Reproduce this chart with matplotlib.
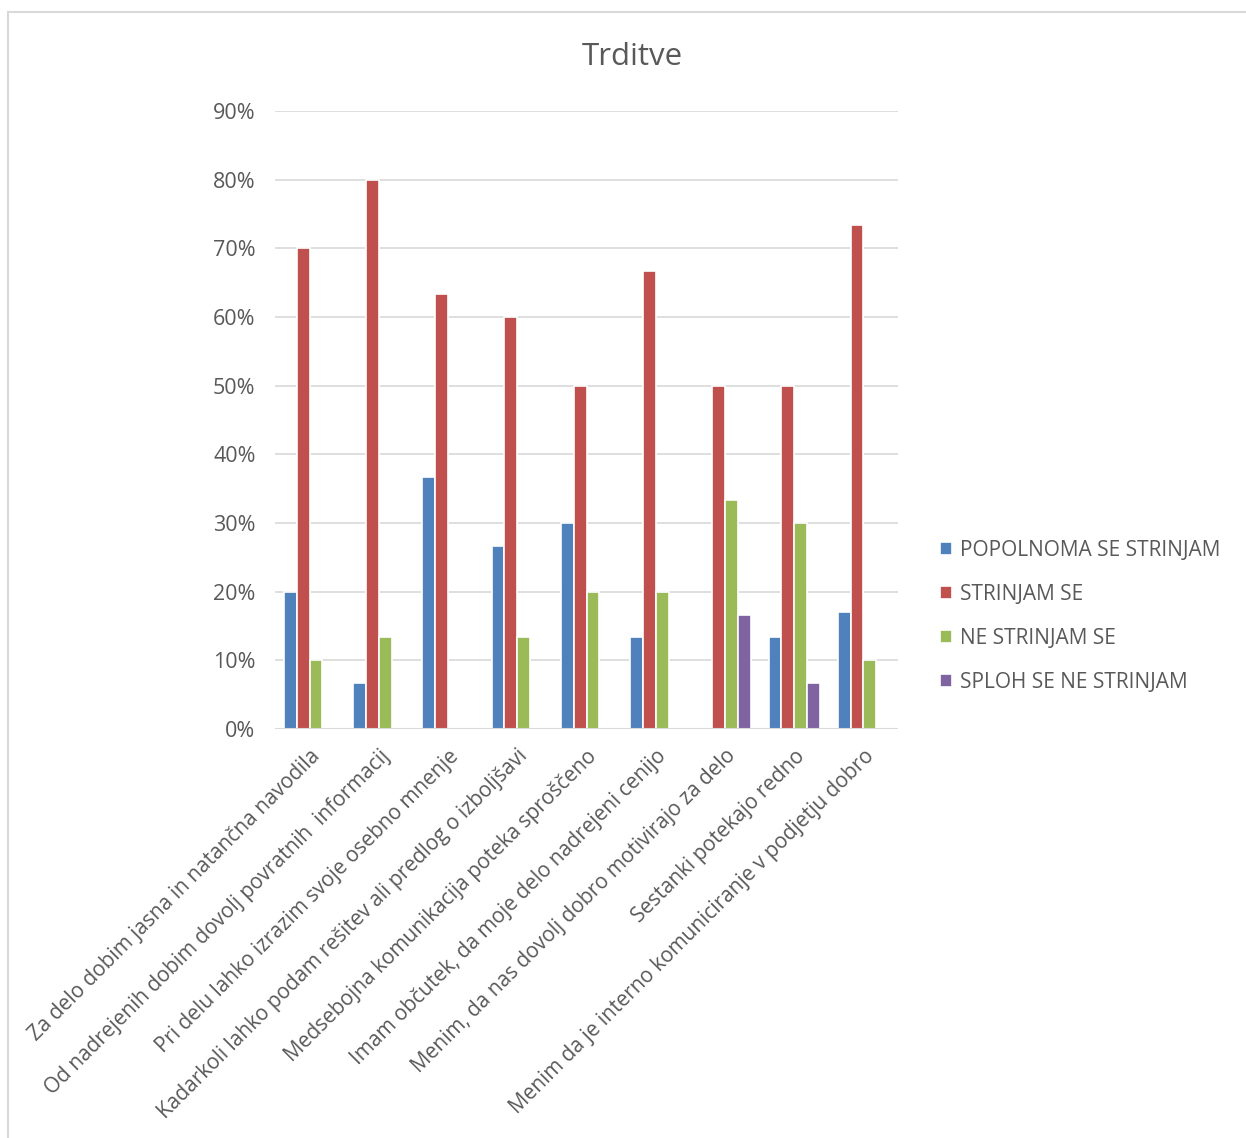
import matplotlib
matplotlib.use("Agg")
import matplotlib.pyplot as plt
import numpy as np
from matplotlib.patches import Rectangle
from matplotlib.ticker import FuncFormatter

categories = [
    "Za delo dobim jasna in natančna navodila",
    "Od nadrejenih dobim dovolj povratnih  informacij",
    "Pri delu lahko izrazim svoje osebno mnenje",
    "Kadarkoli lahko podam rešitev ali predlog o izboljšavi",
    "Medsebojna komunikacija poteka sproščeno",
    "Imam občutek, da moje delo nadrejeni cenijo",
    "Menim, da nas dovolj dobro motivirajo za delo",
    "Sestanki potekajo redno",
    "Menim da je interno komuniciranje v podjetju dobro",
]
series_names = ["POPOLNOMA SE STRINJAM", "STRINJAM SE", "NE STRINJAM SE", "SPLOH SE NE STRINJAM"]
popolnoma = [20.0, 6.67, 36.67, 26.67, 30.0, 13.33, 0.0, 13.33, 17.0]
strinjam = [70.0, 80.0, 63.33, 60.0, 50.0, 66.67, 50.0, 50.0, 73.33]
ne_strinjam = [10.0, 13.33, 0.0, 13.33, 20.0, 20.0, 33.33, 30.0, 10.0]
sploh_ne = [0.0, 0.0, 0.0, 0.0, 0.0, 0.0, 16.67, 6.67, 0.0]
yticks = [0, 10, 20, 30, 40, 50, 60, 70, 80, 90]

colors = ["#4F81BD", "#C0504D", "#9BBB59", "#8064A2"]
font = "Open Sans"
tc = "#595959"

W, H = 1246, 1138
fig = plt.figure(figsize=(W / 100, H / 100), dpi=100)
fig.patch.set_facecolor("white")

# outer frame
fig.patches.append(Rectangle((8 / W, -0.1), 1.2, 1 - 12 / H + 0.1, transform=fig.transFigure,
                             fill=False, edgecolor="#D9D9D9", linewidth=1.5, zorder=0))

ax = fig.add_axes([275 / W, 1 - 729 / H, (898 - 275) / W, (729 - 111) / H])
x = np.arange(len(categories))
bw = 0.185
data = [popolnoma, strinjam, ne_strinjam, sploh_ne]
for i, (vals, name, c) in enumerate(zip(data, series_names, colors)):
    ax.bar(x + (i - 1.5) * bw, vals, width=bw, color=c, edgecolor="white",
           linewidth=1.2, label=name, zorder=3)

ax.set_xlim(-0.5, len(categories) - 0.5)
ax.set_ylim(0, 90)
ax.set_yticks(yticks)
ax.yaxis.set_major_formatter(FuncFormatter(lambda v, p: f"{int(v)}%"))
ax.grid(axis="y", color="#D9D9D9", linewidth=1.2, zorder=0)
for s in ["top", "right", "left", "bottom"]:
    ax.spines[s].set_visible(False)
ax.axhline(0, color="#D9D9D9", linewidth=1.5, zorder=4)
ax.tick_params(axis="both", length=0, colors=tc)
ax.tick_params(axis="y", pad=14)
for lab in ax.get_yticklabels():
    lab.set_fontfamily(font)
    lab.set_fontsize(15.5)
ax.set_xticks(x)
ax.set_xticklabels(categories, rotation=45, ha="right", rotation_mode="anchor",
                   fontfamily=font, fontsize=15, color=tc)
ax.tick_params(axis="x", pad=12)

fig.text(632 / W, 1 - 57 / H, "Trditve", ha="center", va="center",
         fontfamily=font, fontsize=22.5, color=tc)

leg = fig.legend(loc="upper left", bbox_to_anchor=(921 / W, 1 - 521 / H),
                 frameon=False, prop={"family": font, "size": 15},
                 handlelength=0.6, handleheight=0.6, handletextpad=0.35,
                 labelspacing=1.1, labelcolor=tc)

fig.savefig("out.png", dpi=100)
